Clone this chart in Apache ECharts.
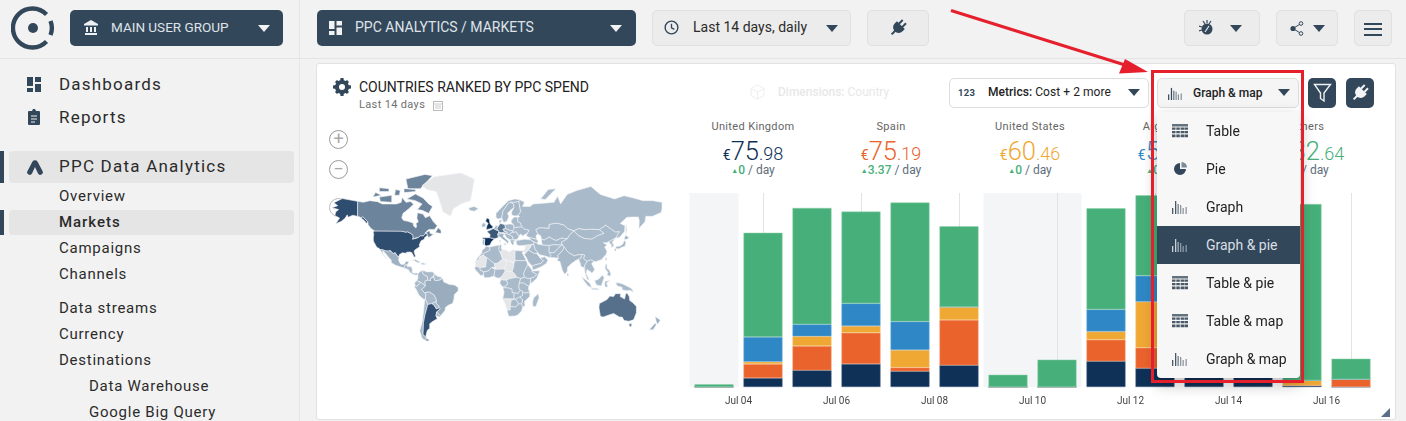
<!DOCTYPE html>
<html><head><meta charset="utf-8"><title>Countries ranked by PPC spend</title>
<script src="https://cdn.jsdelivr.net/npm/echarts@6/dist/echarts.min.js"></script>
<style>
html,body{margin:0;padding:0;width:1406px;height:421px;overflow:hidden;background:#f2f2f2;font-family:Roboto,sans-serif;color:#222}
.a{position:absolute;white-space:nowrap}
.btn{position:absolute;border-radius:5px;box-sizing:border-box}
.dark{background:#33475b;color:#dfe3e8}
.light{background:#ececec;border:1px solid #e0e0e0}
.tri{position:absolute;width:0;height:0;border-left:6.5px solid transparent;border-right:6.5px solid transparent;border-top:7.5px solid #33475b}
.nav{position:absolute;left:59px;font-size:15px;letter-spacing:.75px;color:#2b2b2b;line-height:20px;white-space:nowrap}
.kpi{position:absolute;width:130px;text-align:center;top:120px}
.kpi .n{font-size:11px;letter-spacing:.35px;color:#666;line-height:14px}
.kpi .v{font-weight:300;line-height:26px;margin-top:4px;font-size:18px;height:25px}
.kpi .v b{font-weight:300;font-size:25.5px}
.kpi .v i{font-style:normal;font-size:14px;font-weight:400}
.kpi .d{font-size:12px;color:#5e6d7c;line-height:14px;margin-top:0}
.kpi .d em{font-style:normal;color:#47b07a;font-weight:500}
.kpi .d s{text-decoration:none;color:#47b07a;font-size:7px;vertical-align:1px}
#chart{position:absolute;left:0;top:0;width:1406px;height:421px}
.mi{position:absolute;left:0;width:143px;height:38px;line-height:38px;padding-left:49px;box-sizing:border-box;font-size:14px;color:#222}
.mi svg{position:absolute;left:15px;top:12px}
.mi.on{background:#33475b;color:#d9dfe5}
</style></head><body>
<svg width="0" height="0" style="position:absolute">
<symbol id="plug" viewBox="0 0 20 20"><g transform="rotate(45 10 10)" fill="currentColor"><rect x="6.300" y="0" width="2.200" height="6"/><rect x="11.500" y="0" width="2.200" height="6"/><path d="M3.800 5.500h12.400v3.500a6.200 6.200 0 0 1-12.400 0z"/><rect x="8.900" y="14" width="2.200" height="6"/></g></symbol>
<symbol id="bars" viewBox="0 0 16 14"><g fill="currentColor"><rect x="0" y="8" width="1.300" height="6"/><rect x="3" y="1" width="1.300" height="13"/><rect x="5.500" y="4" width="1.300" height="10" opacity=".75"/><rect x="8" y="5" width="1.300" height="9" opacity=".6"/><rect x="10.500" y="8" width="1.300" height="6" opacity=".6"/><rect x="13.500" y="7" width="1.300" height="7" opacity=".6"/></g></symbol>
<symbol id="tbl" viewBox="0 0 16 14"><g fill="currentColor"><rect x="0" y="0" width="16" height="2.500" opacity=".85"/><path d="M0 3.500h3.500v2.200H0zM4.300 3.500h3.500v2.200H4.300zM8.600 3.500h3.500v2.200H8.600zM12.500 3.500H16v2.200h-3.500zM0 7h3.500v2.200H0zM4.300 7h3.500v2.200H4.300zM8.600 7h3.500v2.200H8.600zM12.500 7H16v2.200h-3.500zM0 10.500h3.500v2.700H0zM4.300 10.500h3.500v2.700H4.300zM8.600 10.500h3.500v2.700H8.600zM12.500 10.500H16v2.700h-3.500z"/></g></symbol>
</svg>

<!-- top bar -->
<div class="a" style="left:0;top:58px;width:1406px;height:1px;background:#e3e3e3"></div>
<div class="a" style="left:299px;top:0;width:1px;height:421px;background:#e6e6e6"></div>
<svg class="a" style="left:11px;top:6px" width="44" height="44" viewBox="0 0 44 44"><g fill="none" stroke="#33475b" stroke-width="4.400"><path d="M35.500 8.500A19.500 19.500 0 1 0 35.500 35.500"/><path d="M39.500 15A19 19 0 0 1 39.500 29"/></g><circle cx="22" cy="22" r="5" fill="#33475b"/></svg>
<div class="btn dark" style="left:70px;top:10px;width:213px;height:36px"></div>
<svg class="a" style="left:84px;top:20px" width="14" height="15" viewBox="0 0 14 15"><path d="M7 0L14 4v1.500H0V4zM1 13h12v2H1zM2 7h2v5H2zM6 7h2v5H6zM10 7h2v5h-2z" fill="#eef1f3"/></svg>
<div class="a" style="left:111px;top:10px;line-height:35px;font-size:13.500px;color:#dfe3e8">MAIN USER GROUP</div>
<div class="tri" style="left:258px;top:25px;border-top-color:#f0f2f4"></div>
<div class="btn dark" style="left:317px;top:10px;width:319px;height:36px"></div>
<svg class="a" style="left:329px;top:21px" width="13" height="14" viewBox="0 0 13 14"><path d="M0 0h5.500v8H0zM7.500 0H13v4.500H7.500zM7.500 6.500H13V14H7.500zM0 10h5.500v4H0z" fill="#f0f2f4"/></svg>
<div class="a" style="left:355px;top:10px;line-height:35px;font-size:14px;color:#dfe3e8">PPC ANALYTICS / MARKETS</div>
<div class="tri" style="left:610px;top:25px;border-top-color:#f0f2f4"></div>
<div class="btn light" style="left:652px;top:10px;width:199px;height:36px"></div>
<svg class="a" style="left:664px;top:20px" width="15" height="15" viewBox="0 0 16 16"><circle cx="8" cy="8" r="6.800" fill="none" stroke="#33475b" stroke-width="1.500"/><path d="M8 4v4.300l3 1.700" fill="none" stroke="#33475b" stroke-width="1.400"/></svg>
<div class="a" style="left:693px;top:10px;line-height:35px;font-size:14px;color:#2b2b2b">Last 14 days, daily</div>
<div class="tri" style="left:826px;top:25px"></div>
<div class="btn light" style="left:867px;top:10px;width:62px;height:36px"></div>
<svg class="a" style="left:889px;top:19px;color:#33475b" width="18" height="18"><use href="#plug"/></svg>
<div class="btn light" style="left:1184px;top:10px;width:76px;height:36px"></div>
<svg class="a" style="left:1199px;top:20px" width="16" height="16" viewBox="0 0 16 16"><circle cx="8" cy="9" r="5.500" fill="#33475b"/><path d="M4 1l2 3M8 0v3M12 1l-2 3M0 6l3 1M0 11l3-1" stroke="#33475b" stroke-width="1.200"/><path d="M6 12l4-6" stroke="#ececec" stroke-width="1.200"/></svg>
<div class="tri" style="left:1230px;top:25px"></div>
<div class="btn light" style="left:1276px;top:10px;width:62px;height:36px"></div>
<svg class="a" style="left:1290px;top:21px" width="14" height="15" viewBox="0 0 14 15"><path d="M3 7.500L11 2.500M3 7.500L11 12.500" stroke="#33475b" stroke-width="1"/><circle cx="3" cy="7.500" r="2.600" fill="#33475b"/><circle cx="11" cy="2.500" r="1.800" fill="#ececec" stroke="#33475b"/><circle cx="11" cy="12.500" r="1.800" fill="#ececec" stroke="#33475b"/></svg>
<div class="tri" style="left:1313px;top:25px"></div>
<div class="btn light" style="left:1354px;top:10px;width:38px;height:36px"></div>
<div class="a" style="left:1364px;top:23px;width:18px;height:2px;background:#33475b;box-shadow:0 5px 0 #33475b,0 11px 0 #33475b"></div>

<!-- sidebar -->
<svg class="a" style="left:27px;top:77px" width="14" height="15" viewBox="0 0 14 15"><path d="M0 0h6v9H0zM8 0h6v5H8zM8 7h6v8H8zM0 11h6v4H0z" fill="#33475b"/></svg>
<div class="nav" style="top:74px;font-size:17px;letter-spacing:1.200px">Dashboards</div>
<svg class="a" style="left:28px;top:109px" width="12" height="16" viewBox="0 0 12 16"><path d="M1 2h3l1-2h2l1 2h3a1 1 0 0 1 1 1v12a1 1 0 0 1-1 1H1a1 1 0 0 1-1-1V3a1 1 0 0 1 1-1z" fill="#33475b"/><path d="M3 7h6M3 10h6M3 13h4" stroke="#f2f2f2" stroke-width="1.200"/></svg>
<div class="nav" style="top:107px;font-size:17px;letter-spacing:1.200px">Reports</div>
<div class="a" style="left:9px;top:151px;width:285px;height:32px;background:#e5e5e5;border-radius:4px"></div>
<div class="a" style="left:0;top:151px;width:4px;height:32px;background:#33475b"></div>
<svg class="a" style="left:27px;top:160px" width="16" height="15" viewBox="0 0 16 15"><path d="M5.500 1.500a3 3 0 0 1 5 0l5 9.500a2.500 2.500 0 0 1-4.500 2.500L8 7l-3 6.500A2.500 2.500 0 0 1 .500 11z" fill="#33475b"/></svg>
<div class="nav" style="top:156px;font-size:17px;letter-spacing:1.220px">PPC Data Analytics</div>
<div class="nav" style="top:186px">Overview</div>
<div class="a" style="left:9px;top:210px;width:285px;height:25px;background:#e5e5e5;border-radius:4px"></div>
<div class="a" style="left:0;top:210px;width:4px;height:25px;background:#33475b"></div>
<div class="nav" style="top:212px;font-weight:500;letter-spacing:.95px">Markets</div>
<div class="nav" style="top:238px">Campaigns</div>
<div class="nav" style="top:264px">Channels</div>
<div class="nav" style="top:298px">Data streams</div>
<div class="nav" style="top:324px">Currency</div>
<div class="nav" style="top:350px">Destinations</div>
<div class="nav" style="top:376px;left:89px">Data Warehouse</div>
<div class="nav" style="top:402px;left:89px">Google Big Query</div>

<!-- card -->
<div class="a" style="left:316px;top:63px;width:1078px;height:355px;background:#fff;border:1px solid #e2e2e2;border-radius:3px"></div>
<svg class="a" style="left:333px;top:78px" width="18" height="18" viewBox="0 0 18 18"><circle cx="9" cy="9" r="5" fill="none" stroke="#33475b" stroke-width="4"/><path d="M7.500 0h3l.4 3h-3.800zM7.500 18h3l.4-3h-3.800zM0 7.500v3l3 .4V7.100zM18 7.500v3l-3 .4V7.100zM2 4l2-2 2.500 2-2.500 2.500zM16 4l-2-2-2.500 2 2.500 2.500zM2 14l2 2 2.500-2-2.500-2.500zM16 14l-2 2-2.500-2 2.500-2.500z" fill="#33475b"/></svg>
<div class="a" style="left:359px;top:78px;font-size:14px;line-height:18px;color:#222">COUNTRIES RANKED BY PPC SPEND</div>
<div class="a" style="left:359px;top:98px;font-size:11px;line-height:14px;color:#6f6f6f;letter-spacing:.35px">Last 14 days</div>
<svg class="a" style="left:433px;top:100px" width="10" height="11" viewBox="0 0 10 11"><rect x=".5" y="1.500" width="9" height="9" fill="none" stroke="#bbb"/><path d="M.5 4h9M2 6h6M2 8h6" stroke="#ccc"/></svg>
<svg class="a" style="left:750px;top:84px" width="15" height="16" viewBox="0 0 15 16"><path d="M7.500 1L14 4.500v7L7.500 15 1 11.500v-7zM1 4.500L7.500 8 14 4.500M7.500 8v7" fill="none" stroke="#eeeeee"/></svg>
<div class="a" style="left:778px;top:85px;font-size:12px;line-height:14px;color:#e8e8e8"><b style="font-weight:500">Dimensions:</b> Country</div>
<div class="btn" style="left:949px;top:78px;width:200px;height:30px;border:1px solid #ddd;background:#fff"></div>
<div class="a" style="left:958px;top:86px;font-size:9.500px;font-weight:700;line-height:14px;color:#33475b;letter-spacing:.3px">123</div>
<div class="a" style="left:988px;top:84px;font-size:12px;line-height:16px;color:#222;letter-spacing:.05px"><b style="font-weight:500">Metrics:</b> Cost + 2 more</div>
<div class="tri" style="left:1128px;top:89px"></div>
<div class="btn" style="left:1157px;top:78px;width:142px;height:30px;border:1px solid #ddd;background:#f5f5f5"></div>
<svg class="a" style="left:1168px;top:87px;color:#33475b" width="15" height="13"><use href="#bars"/></svg>
<div class="a" style="left:1193px;top:85px;font-size:12px;font-weight:500;line-height:16px;color:#222">Graph &amp; map</div>
<div class="tri" style="left:1278px;top:89px"></div>
<div class="btn dark" style="left:1308px;top:78px;width:28px;height:30px"></div>
<svg class="a" style="left:1313px;top:83px" width="19" height="20" viewBox="0 0 19 20"><path d="M1.500 1.500h16L11 10v8l-3.500-2.500V10z" fill="none" stroke="#eef1f3" stroke-width="1.400"/></svg>
<div class="btn dark" style="left:1346px;top:78px;width:28px;height:30px"></div>
<svg class="a" style="left:1351px;top:84px;color:#f2f4f6" width="18" height="18"><use href="#plug"/></svg>

<div class="a" style="left:329px;top:130px;width:17px;height:17px;border:1px solid #999;border-radius:50%;background:#fff;color:#aaa;text-align:center;line-height:16px;font-size:18px">+</div>
<div class="a" style="left:329px;top:160px;width:17px;height:17px;border:1px solid #999;border-radius:50%;background:#fff;color:#aaa;text-align:center;line-height:15px;font-size:18px">−</div>
<div class="a" style="left:329px;top:198px;width:17px;height:17px;border:1px solid #bbb;border-radius:50%;background:#fff"></div>

<div class="kpi" style="left:688px;color:#0f3057"><div class="n">United Kingdom</div><div class="v"><i>€</i><b>75</b>.98</div><div class="d"><s>▲</s><em>0</em> / day</div></div>
<div class="kpi" style="left:826px;color:#eb632c"><div class="n">Spain</div><div class="v"><i>€</i><b>75</b>.19</div><div class="d"><s>▲</s><em>3.37</em> / day</div></div>
<div class="kpi" style="left:965px;color:#f0a834"><div class="n">United States</div><div class="v"><i>€</i><b>60</b>.46</div><div class="d"><s>▲</s><em>0</em> / day</div></div>
<div class="kpi" style="left:1103px;color:#2f88c5"><div class="n">Argentina</div><div class="v"><i>€</i><b>58</b>.12</div><div class="d"><s>▲</s><em>0</em> / day</div></div>
<div class="kpi" style="left:1242px;color:#47b07a"><div class="n">Others</div><div class="v"><i>€</i><b>132</b>.64</div><div class="d"><s>▲</s><em>0</em> / day</div></div>

<div id="chart"></div>

<div class="a" style="left:1381px;top:408px;width:0;height:0;border-left:9px solid transparent;border-bottom:9px solid #5b7088"></div>

<!-- dropdown -->
<div class="a" style="left:1157px;top:112px;width:143px;height:266px;background:#f7f7f7;border-radius:4px;box-shadow:0 6px 16px rgba(0,0,0,.28);overflow:hidden" id="menu">
<div class="mi" style="top:0"><svg width="16" height="14" style="color:#4a5968"><use href="#tbl"/></svg>Table</div>
<div class="mi" style="top:38px"><svg width="16" height="14" viewBox="0 0 16 14"><path d="M8 1a6 6 0 1 0 6 6H8z" fill="#33475b"/><path d="M9.500 0a5.500 5.500 0 0 1 5.500 5.500H9.500z" fill="#7c8a98"/></svg>Pie</div>
<div class="mi" style="top:76px"><svg width="16" height="14" style="color:#4a5968"><use href="#bars"/></svg>Graph</div>
<div class="mi on" style="top:114px"><svg width="16" height="14" style="color:#c9d1d9"><use href="#bars"/></svg>Graph &amp; pie</div>
<div class="mi" style="top:152px"><svg width="16" height="14" style="color:#4a5968"><use href="#tbl"/></svg>Table &amp; pie</div>
<div class="mi" style="top:190px"><svg width="16" height="14" style="color:#4a5968"><use href="#tbl"/></svg>Table &amp; map</div>
<div class="mi" style="top:228px"><svg width="16" height="14" style="color:#4a5968"><use href="#bars"/></svg>Graph &amp; map</div>
</div>
<div class="a" style="left:1151px;top:70px;width:147px;height:307px;border:3px solid #e5202c"></div>
<svg class="a" style="left:0;top:0" width="1406" height="421"><path d="M951 10.500L1125 65" stroke="#e5202c" stroke-width="3"/><path d="M1148 72L1119 73.500L1125 59z" fill="#e5202c"/></svg>

<script>
const days = ["Jul 03","Jul 04","Jul 05","Jul 06","Jul 07","Jul 08","Jul 09","Jul 10","Jul 11","Jul 12","Jul 13","Jul 14","Jul 15","Jul 16"];
const dayEdges = ["Jul 03","Jul 04","Jul 05","Jul 06","Jul 07","Jul 08","Jul 09","Jul 10","Jul 11","Jul 12","Jul 13","Jul 14","Jul 15","Jul 16","Jul 17"];
const unitedKingdom = [0,4.6,8.6,11.9,8.1,11.2,0,0,13.3,9.7,11.5,10.5,0.8,0];
const spain         = [0,7.2,12.5,16,1.9,23.4,0,0,11,10.5,14,12,0,4];
const unitedStates  = [0,1.2,5,3.5,9.1,6.7,0,0,4.3,23.7,8,7,2.6,0];
const argentina     = [0,12.8,6.2,11.7,14.6,0,0,0,11.4,13.4,10,9,0,0];
const others        = [1.4,53.7,60,47.3,61.4,41.5,6.3,14.1,52.1,41.5,48,52,90.9,10.6];
const weekendRanges = [["Jul 03","Jul 04"],["Jul 09","Jul 11"]];
const mapCountries = ["United States","United Kingdom","Spain","Argentina","France","Australia","Canada","Germany","Brazil","Russia","China","India","Mexico","Colombia","Venezuela","Guianas","Ecuador","Peru","Bolivia","Chile","Paraguay","Uruguay","Iceland","Ireland","Portugal","Benelux","Alpine","Italy","Poland","Central Europe","Balkans","Romania-Bulgaria","Greece","Ukraine","Belarus-Baltics","Norway","Sweden","Finland","Denmark","Turkey","Caucasus","Iran","Iraq","Saudi Arabia","Yemen-Oman","Kazakhstan","Central Asia","Afghanistan","Pakistan","Sri Lanka","Myanmar","Indochina","Mongolia","Korea","Japan","Taiwan","Philippines","Indonesia","New Guinea","New Zealand","Madagascar","Central America","Caribbean","Morocco","Algeria","Tunisia","Egypt","Mali","Sudan","Ethiopia","Somalia","Senegambia","Gulf of Guinea","Nigeria","Gabon-Congo","DR Congo","East Africa","Tanzania","Angola","Zambia","Mozambique","Zimbabwe","Botswana","South Africa"];
const mapValues = [60.46,75.98,75.19,58.12,54,42,31,38,9,2,2,3,7,3,2,2,2,2,2,3,2,2,2,3,3,4,3,8,3,3,2,2,2,2,2,3,3,3,3,2,2,2,2,3,2,2,2,2,2,2,2,2,2,2,5,2,2,2,2,8,2,3,2,3,2,2,3,2,2,2,2,2,2,2,2,2,2,2,2,2,3,2,2,3];
const mapNoData = ["Greenland","Mauritania","Libya","Niger","Chad","Central Africa","Namibia","Levant"];

const regionOutlines = {
"United States":[[-124.7,48.4,-123,49,-95.2,49,-94.6,48.7,-92,48.3,-89.6,48,-88.4,48.3,-84.9,46.9,-83.6,46.1,-82.5,45.3,-82.4,43,-83.1,42.1,-78.9,42.9,-79.2,43.4,-76.8,43.6,-75,45,-71.5,45,-70,46.7,-69,47.4,-67.8,47.1,-67.5,45.3,-70.2,43.6,-70.7,42,-74,40.6,-75.5,38,-76,36.9,-75.5,35.2,-78,33.9,-81,32,-81.4,30.3,-80.1,26.8,-80.4,25.2,-81.8,26,-82.8,28,-84,30,-86,30.4,-89.5,30.2,-89.5,29.1,-91.5,29.4,-94,29.6,-97.2,27.7,-97.2,25.9,-99.2,26.4,-101.4,29.8,-103,29,-104.5,29.6,-106.5,31.8,-108.2,31.3,-111,31.3,-114.8,32.5,-117.1,32.5,-118.5,34,-120.6,34.5,-122.5,37.5,-124.3,40.3,-124.5,43,-124,46.2],[-141,69.6,-141,60.3,-137.5,58.9,-135.5,59.7,-130,55.9,-131.5,55,-134,57,-139,59.6,-146,60.7,-151,59.3,-152,61,-154,58.7,-158,56.5,-164,54.6,-160,58.7,-165,60.5,-164,63,-161,64.5,-168,65.6,-162,67,-166,68.8,-157,71.2,-150,70.5]],
"Canada":[[-141,69.6,-135,69,-128,70,-120,69.4,-115,68,-108,68,-100,68,-95,69,-94,71.8,-90,69,-85,69.5,-82,67.8,-87,65,-93,62,-94.5,59,-92.5,57,-88,56.4,-82.5,55.2,-82,52.9,-79.5,51.3,-78.7,52.8,-79.5,54.7,-77,56,-78.5,58.7,-77.8,62.4,-72,61.5,-69.5,59,-65,60.3,-61,56,-57,53,-60,50.2,-66,50.2,-70,47.3,-65,49.2,-64.5,47,-61,46,-66,43.6,-67.5,45.3,-67.8,47.1,-69,47.4,-70,46.7,-71.5,45,-75,45,-76.8,43.6,-79.2,43.4,-78.9,42.9,-83.1,42.1,-82.4,43,-82.5,45.3,-83.6,46.1,-84.9,46.9,-88.4,48.3,-89.6,48,-92,48.3,-94.6,48.7,-95.2,49,-123,49,-127,51,-130,54,-130,55.9,-135.5,59.7,-137.5,58.9,-141,60.3],[-62,66.5,-66,62,-73,64,-78,64.5,-73,68,-80,70,-89,71,-80,73.7,-72,71.5,-66,68],[-105,69,-117,69.5,-118,72,-105,73],[-62,82.5,-75,76.5,-88,76.5,-90,81,-70,83],[-116,73,-125,72,-122,74.5],[-80,75,-92,74.5,-92,76.5,-80,76],[-59,47.7,-53,46.8,-53,49.3,-56,51.5],[-97,73,-102,73,-101,76,-96,75.5],[-108,75,-118,75,-118,77,-108,76.5]],
"Greenland":[[-73,78,-60,82,-32,83.6,-18,81,-20,75,-22,70,-32,68,-40,65,-43,60,-51,63,-54,69,-58,75,-68,76]],
"Iceland":[[-24,65.5,-18,66.5,-13.5,65,-18,63.4,-22.5,63.9]],
"Mexico":[[-117.1,32.5,-114.8,32.5,-111,31.3,-108.2,31.3,-106.5,31.8,-104.5,29.6,-103,29,-101.4,29.8,-99.2,26.4,-97.2,25.9,-97.8,22.4,-96,19,-94.5,18.2,-91.5,18.5,-90.5,21,-87,21.5,-88,18.5,-89,17.9,-91,17.3,-92.2,14.6,-96,15.8,-101,17.5,-105.5,20,-105.5,22.5,-109,26,-112.5,30,-114.7,31.5,-114.5,29,-110,23.2,-112,25,-115,29]],
"Central America":[[-92.2,14.6,-91,17.3,-89,17.9,-88,18.5,-88.5,16,-84,15.8,-83.3,12,-83.5,10,-81,9,-79,9.5,-77.5,8.7,-78,7.3,-80.5,7.4,-83,8.3,-85.5,10,-87.5,13]],
"Caribbean":[[-85,22,-80,23.2,-74.2,20.2,-77.5,19.9,-78,20.8,-82,22.4],[-74.4,18.5,-73,19.9,-68.4,18.6,-71,17.9]],
"Colombia":[[-77.5,8.7,-75,11,-72,12.2,-72.4,9,-70,7,-67.5,6,-67,2,-70,1,-69.5,-4.2,-71,-2.5,-75,0,-78.8,1.5,-77.3,4,-77.5,7]],
"Venezuela":[[-72,12.2,-68,10.6,-62,10.7,-60,8.5,-61,6,-60.7,5,-64,4,-64,1.5,-67,2,-67.5,6,-70,7,-72.4,9]],
"Guianas":[[-60,8.5,-57,6,-52,5,-51.6,4,-54,2.2,-58,1.5,-60,2,-60.7,5,-61,6]],
"Ecuador":[[-80,0,-78.8,1.5,-75,0,-75.5,-1.5,-78.5,-4.5,-80.3,-3.4,-81,-1]],
"Peru":[[-81,-5,-80.3,-3.4,-78.5,-4.5,-75.5,-1.5,-75,0,-71,-2.5,-69.5,-4.2,-73.5,-7.5,-70.5,-11,-69,-12.5,-69.5,-17.5,-71,-18,-76,-14,-79,-8]],
"Bolivia":[[-69,-12.5,-70.5,-11,-65.5,-10,-60,-13.5,-58,-18,-58,-20,-62.5,-22,-67,-23,-69,-19,-69.5,-17.5]],
"Chile":[[-69.5,-17.5,-69,-19,-67,-23,-70,-33,-71.5,-40,-72,-50,-68.5,-52.3,-68.6,-55,-73,-53,-75.5,-47,-73,-40,-71.5,-30,-70.2,-18.4]],
"Argentina":[[-67,-23,-62.5,-22,-60,-24,-58,-27.2,-54.7,-26,-53.8,-27.2,-57.6,-30.2,-58.4,-34,-57,-36.5,-62,-39,-65,-41,-65,-45,-67.5,-46.5,-69,-51,-68.5,-52.3,-72,-50,-71.5,-40,-70,-33],[-68.6,-55,-68.5,-53,-65.2,-54.7]],
"Paraguay":[[-62.5,-22,-58,-20,-57.9,-22,-55.5,-24,-54.7,-26,-58,-27.2,-60,-24]],
"Uruguay":[[-57.6,-30.2,-53.4,-33.7,-54,-34.9,-58.4,-34]],
"Brazil":[[-51.6,4,-50,0,-44,-2.5,-39,-3,-35,-5.5,-35,-9,-39,-13,-39.5,-18,-41,-22,-45,-23.5,-48.5,-26,-48.7,-28.5,-53.4,-33.7,-57.6,-30.2,-53.8,-27.2,-54.7,-26,-55.5,-24,-57.9,-22,-58,-18,-60,-13.5,-65.5,-10,-70.5,-11,-73.5,-7.5,-69.5,-4.2,-70,1,-67,2,-64,1.5,-64,4,-60.7,5,-60,2,-58,1.5,-54,2.2]],
"United Kingdom":[[-5.5,50,1.3,51.2,1.7,52.7,0,53.5,-1.5,55,-2,57.6,-3.5,58.6,-5,58.6,-6,56.5,-3.2,54.8,-4.5,53.3,-5,51.7]],
"Ireland":[[-10,52,-6.2,52.2,-6,54.2,-8,55.3,-10,54]],
"Spain":[[-9.3,43.2,-1.8,43.4,3.2,42.4,0,39.5,-0.8,37.7,-2,36.7,-5.5,36,-7.3,37.2,-7,42,-8.9,42]],
"Portugal":[[-9.5,38.7,-8.9,37,-7.3,37.2,-7,42,-8.9,42]],
"France":[[-1.8,43.4,3.2,42.4,6,43,7.5,43.8,6.9,46,8.2,49,4.5,50,2.5,51,-1.5,49.5,-4.7,48.5,-1.2,46]],
"Germany":[[6,51,6.2,49.5,8.2,49,7.6,47.6,13,47.5,13.8,48.8,12.2,50.3,15,51,14.3,53.9,9.5,54.8,8.5,53.8]],
"Benelux":[[2.5,51,4.5,50,6.2,49.5,6,51,7,53.3,4.7,53]],
"Alpine":[[6.9,46,10.4,46.7,16,46.8,17,48,13.8,48.8,13,47.5,7.6,47.6]],
"Italy":[[7.5,43.8,6.9,46,10.4,46.7,13.7,46.5,12.3,44.5,16,41.8,18.5,40,16.6,38,15.7,40,12,42,9,44.3],[12.5,38,15.5,38.2,15,36.7],[8.3,41,9.7,41,9.5,39,8.5,39]],
"Poland":[[14.3,53.9,15,51,19,49.5,22.6,49.1,24,50.7,23.5,54,19,54.4]],
"Central Europe":[[13.8,48.8,17,48,16,46.8,18.8,45.9,22,47.9,22.6,49.1,19,49.5,15,51,12.2,50.3]],
"Balkans":[[13.7,46.5,16,46.8,18.8,45.9,22.5,44.3,23,41.3,19.5,41.5,16,43.5]],
"Romania-Bulgaria":[[22,47.9,26.6,48.3,28.2,45.5,29.7,45.2,28.6,43.7,27.5,42,23,41.3,22.5,44.3,18.8,45.9]],
"Greece":[[19.5,41.5,23,41.3,26.3,41,23.5,40,24,38,22.8,36.5,21,38.3]],
"Ukraine":[[22.6,49.1,24,50.7,24,51.7,32,52.3,35,50.5,40,49.5,38,47,35,46,33.5,44.5,31,46.5,29.7,45.2,28.2,45.5,26.6,48.3,22,47.9]],
"Belarus-Baltics":[[23.5,54,24,51.7,32,52.3,31,55,28,56.2,28,59.4,24,59.5,21,57,21,55.5]],
"Norway":[[5,59,7.5,58,11,59,12.3,63.5,14,65,18,68.5,20.5,69,25,69,29,69.5,31,70.3,25,71,18,70,12,66.5,5,62]],
"Sweden":[[11,59,13,55.5,16.5,56.5,18.5,60,17,62,21,64.5,24,65.8,23.5,68,20.5,69,18,68.5,14,65,12.3,63.5]],
"Finland":[[24,65.8,21.5,63,21.5,60.8,25,60.2,28,60.5,31,63,29,69.5,25,69,20.5,69,23.5,68]],
"Denmark":[[8.5,55,9.5,54.8,10.8,56.5,10.5,57.7,8.2,57]],
"Russia":[[28,56.2,31,55,32,52.3,35,50.5,40,49.5,38,47,37,45,40,43.5,48,41.9,47,45,49,46.5,47,50,51,51.5,61,51,61,54,69,55,77,53.5,80.5,50.8,87,49,92,50.8,98,50,106,50.3,114,50,119,52.5,120.5,53.5,127,50,131,48,135,48.4,131,43,135,43.5,140.5,48.5,141,53,136,54.8,143,59.3,150,59.5,155,59.5,156,57,155.7,51,162,56,163,60,170,60,179,62.5,180,65,180,69,170,70,160,70,150,71.5,140,72.8,130,71,115,73.5,105,77.6,90,75.5,80,73.5,73,68,70,72.5,66,69,55,68.5,44,68,41,66.5,33,66.5,35,69,31,70.3,29,69.5,31,63,28,60.5,30,59.8,28,59.4],[52,71,57,70.7,68,76.5,60,76],[142,54,143,50,142,46,141.9,50]],
"Turkey":[[26.3,41,29,41.2,35,42,41.5,41.5,44.8,39.7,44.8,37.2,36,36.7,30,36.3,27,37,26.3,39]],
"Caucasus":[[40,43.5,48,41.9,49.5,40.3,48,38.5,44.8,39.7,41.5,41.5]],
"Iran":[[44.8,39.7,48,38.5,49.5,37.5,54,37,61,36.5,61,31,63,27,61.5,25,57,26.5,51,27.8,48.7,30.2,46,33,44.8,37.2]],
"Iraq":[[44.8,37.2,46,33,48.7,30.2,47.5,29,44.5,29.2,39,32.3,41,34.5,42.3,37.2]],
"Levant":[[36,36.7,42.3,37.2,41,34.5,39,32.3,37,30,35,29.5,34.3,31.3,35.8,34.7]],
"Saudi Arabia":[[34.8,28,37,30,39,32.3,44.5,29.2,47.5,29,48.5,28,50,26.5,51.5,24.5,55,22,52,19,49,18.5,45,17.4,43,16.5,39,21,37,25]],
"Yemen-Oman":[[43,16.5,45,17.4,49,18.5,52,19,55,22,51.5,24.5,56.3,25.8,59.8,22.5,57.8,19,52,15.6,45,12.8,43.5,12.7]],
"Kazakhstan":[[47,50,51,51.5,61,51,61,54,69,55,77,53.5,80.5,50.8,87,49,82.5,45.5,80,42.2,74,43,69,41,66,41.5,61,44,56,41.3,53,42,52,45,49,46.5]],
"Central Asia":[[53,42,56,41.3,61,44,66,41.5,69,41,74,43,80,42.2,74,39.5,75,37,71,36.8,66.5,37.3,61,36.5,54,37,53,39.5]],
"Afghanistan":[[61,36.5,66.5,37.3,71,36.8,74.5,37,70,33.5,66.5,30,61,29.5,61,31]],
"Pakistan":[[61,29.5,66.5,30,70,33.5,74.5,37,77,35,74.5,31,70,27,71,24.3,67,24.8,61.5,25,63,27]],
"India":[[74.5,31,77,35,79,32.5,81,30.2,88,26.5,89,27.5,96,28.2,94,24,92,23.5,88.5,21.8,85,19.5,80.5,15.5,80,11,77.5,8,75,12,73,19,72.5,21,69,22.3,71,24.3,70,27]],
"Sri Lanka":[[80,9.5,81.8,7.5,80.5,6,79.8,7.5]],
"Myanmar":[[92,23.5,94,24,96,28.2,98.5,27.5,97.5,24,101,21.5,98.5,17,98.8,10,97.7,15,94.5,16,94,19]],
"Indochina":[[101,21.5,105,23,108,21.5,105.8,19,109,13,106,9,105,10.5,101,13,100,9,103.5,2,101,3,100,6,98.8,10,98.5,17]],
"Mongolia":[[87,49,92,50.8,98,50,106,50.3,114,50,119,47,112,45,106,42,98,42.7,92,45]],
"China":[[74,39.5,80,42.2,82.5,45.5,87,49,92,45,98,42.7,106,42,112,45,119,47,114,50,119,52.5,120.5,53.5,127,50,131,48,135,48.4,131,43,128,41.7,124.3,40,121.5,39,118,39,122,37,119.5,35,122,31,121,28,116,23,110,21,108,21.5,105,23,101,21.5,97.5,24,98.5,27.5,96,28.2,89,27.5,88,26.5,81,30.2,79,32.5,77,35,75,37]],
"Korea":[[124.3,40,128,41.7,130.7,42.3,127.5,39.5,129.3,36,126.5,34.5,126.5,37.5,125,38]],
"Japan":[[130.9,34,132,35.5,136,36,139,38,140,40.8,142,39.5,140.8,35.7,136.8,34.5,135,33.5,133,33.5],[140,42,141.5,45.4,145.3,43.5,143,42],[130,33.5,132,33,131,31,130,32]],
"Taiwan":[[121,25,122,24,120.8,22,120,23.5]],
"Philippines":[[120.5,18.5,122,18,122,14,124,13,126,9,125.5,6,122,7,123,10,120,14]],
"Indonesia":[[109,1.5,113,3,117,7,119,5,117.7,1,116,-4,111,-3,109.5,0],[95.3,5.6,100,2,104,-1.5,106,-5.8,102,-4,98,1],[105.5,-6.5,111,-6.5,114.5,-8,106,-7.6],[120,1,125,1.5,121.5,-0.8,123,-5,120,-5,119.5,-2]],
"New Guinea":[[131,-1,134,-0.8,138,-1.7,145,-5,147.5,-6.5,150.5,-10.5,146,-8.5,143,-9,138,-8,138,-5.5,133,-4]],
"Australia":[[114,-22,113.5,-26,115,-34.3,118,-35,124,-33,129,-31.6,135,-34.8,138,-35,140,-38,145,-38.8,150,-37.5,153,-31,153,-25,149,-21,146,-19,145.5,-15,143,-11,141.5,-13,140.5,-17.5,136,-15,136.5,-12,131,-12,129,-15,125,-14.5,122,-18,117,-20.5],[145,-41,148.3,-41,147.5,-43.5,146,-43.5]],
"New Zealand":[[172.7,-34.5,178.3,-37.7,176.5,-40,175,-41.5,174,-39],[172.7,-40.5,174,-41.8,170.7,-46,166.6,-46]],
"Madagascar":[[49.3,-12,50.4,-16,47,-25,44,-25,43.5,-21,44.5,-16.5]],
"Morocco":[[-5.9,35.8,-2,35,-1.2,32.2,-8.7,28.7,-8.7,27.3,-12,26,-13,23,-17,21,-14,25,-10,29.5,-9.7,32,-7,34]],
"Algeria":[[-2,35,8.5,37,8,33,9.5,30,12,23.5,6,19,3.3,19,-8.7,27.3,-8.7,28.7,-1.2,32.2]],
"Tunisia":[[8.5,37,11,37,10.3,34,11.5,32.5,9.5,30,8,33]],
"Libya":[[11.5,32.5,15,32.3,19,30.5,23,32.7,25,31.7,25,20,24,19.5,15,23,12,23.5,9.5,30]],
"Egypt":[[25,31.7,34.2,31.3,32.5,29.8,35.8,24,36.9,22,25,22]],
"Mauritania":[[-17,21,-13,23,-12,26,-8.7,27.3,-4.8,25,-6,16,-12,15,-16.5,16.3]],
"Mali":[[-4.8,25,3.3,19,4,15.5,0,15,-3,11.5,-8,10.5,-12,12.5,-12,15,-6,15.6]],
"Niger":[[3.3,19,6,19,12,23.5,15,23,16,18,13.6,13.5,4,13.2,4,15.5]],
"Chad":[[15,23,24,19.5,23.5,15.5,22,11,15,10,14.5,11,13.6,13.5,16,18]],
"Sudan":[[25,22,36.9,22,38.5,18,36.5,14,34,9,35,5,31,3.7,27,5,24,9,22,11,23.5,15.5,24,19.5,25,20]],
"Ethiopia":[[38.5,18,43,12.5,42.8,11,48,8,45,5,41.5,4,39,3.5,35,5,34,9,36.5,14]],
"Somalia":[[43,11.5,51.2,11.8,48,4,42,-1.5,41,4,45,5,48,8,42.8,11]],
"Senegambia":[[-16.5,16.3,-12,15,-12,12.5,-8,10.5,-8,7.5,-11.5,6.9,-13.5,9.5,-16.8,12.5,-17.5,14.7]],
"Gulf of Guinea":[[-8,10.5,-3,11.5,0,15,4,13.2,2.7,6.3,-2,4.8,-7.5,4.4,-8,7.5]],
"Nigeria":[[2.7,6.3,4,13.2,13.6,13.5,14.5,11,12,7,9,4.3,6,4.3]],
"Central Africa":[[9,4.3,12,7,14.5,11,15,10,22,11,24,9,27,5,19,3.5,16,2,9.8,2.3]],
"Gabon-Congo":[[9.8,2.3,16,2,17.5,-2,14,-4.8,12,-5,9,-1.2]],
"DR Congo":[[19,3.5,27,5,31,3.7,29.5,-1,29,-6,30.5,-8.5,28,-12,22,-11,21.5,-7,16.5,-6,12.2,-6,14,-4.8,17.5,-2,16,2]],
"East Africa":[[31,3.7,35,5,39,3.5,41.5,4,41,-1.5,39.5,-4.5,34,-1,29.5,-1]],
"Tanzania":[[29.5,-1,34,-1,39.5,-4.5,39,-7,40.5,-10.5,35,-11.5,30.5,-8.5,29,-6]],
"Angola":[[12.2,-6,16.5,-6,21.5,-7,22,-11,24,-11,24,-17.5,12,-17.3,13.5,-10.5]],
"Zambia":[[24,-11,28,-12,30.5,-8.5,33,-9.5,33,-14,30,-15.5,25.5,-17.8,24,-17.5]],
"Mozambique":[[35,-11.5,40.5,-10.5,40.6,-15,35,-20,35.5,-24,32.9,-26,32,-22.4,33,-18,30,-15.5,33,-14,33,-9.5]],
"Zimbabwe":[[25.5,-17.8,30,-15.5,33,-18,32,-22.4,29,-22.4]],
"Namibia":[[12,-17.3,24,-17.5,25.5,-17.8,21,-18.5,20,-28.4,16.5,-28.6,14.5,-22]],
"Botswana":[[21,-18.5,25.5,-17.8,29,-22.4,25.5,-25.5,20,-25]],
"South Africa":[[16.5,-28.6,20,-28.4,20,-25,25.5,-25.5,29,-22.4,32,-22.4,32.9,-26,32,-29,28,-33,25,-34,18.5,-34.3]]
};

function ring(flat){const r=[];for(let i=0;i<flat.length;i+=2)r.push([flat[i],flat[i+1]]);r.push(r[0]);return r;}
echarts.registerMap('world',{type:'FeatureCollection',features:Object.keys(regionOutlines).map(name=>({
  type:'Feature',properties:{name},geometry:{type:'MultiPolygon',coordinates:regionOutlines[name].map(f=>[ring(f)])}
}))});
const rad=Math.PI/180;
const miller={
  project:p=>[p[0]*rad,-1.25*Math.log(Math.tan(Math.PI/4+0.4*p[1]*rad))],
  unproject:p=>[p[0]/rad,(2.5*Math.atan(Math.exp(-p[1]/1.25))-Math.PI*0.625)/rad]
};
const barStyle=(c,b)=>({color:c,borderColor:b,borderWidth:0.5});
const chart=echarts.init(document.getElementById('chart'),null,{renderer:'canvas'});
const stackSeries=[
 ['United Kingdom',unitedKingdom,'#0f3057','#4f6c8c'],
 ['Spain',spain,'#eb632c','#f29a70'],
 ['United States',unitedStates,'#f0a834','#f6c67a'],
 ['Argentina',argentina,'#2f88c5','#6fb0dc'],
 ['Others',others,'#47b07a','#8ed1ad']
].map(([name,data,c,b])=>({name,type:'bar',stack:'spend',data,barWidth:39,z:3,itemStyle:barStyle(c,b),silent:true,animation:false}));
chart.setOption({
  animation:false,
  backgroundColor:'transparent',
  grid:{left:689.5,top:193,width:686,height:194,containLabel:false},
  xAxis:[
   {type:'category',data:days,boundaryGap:true,axisLine:{show:false},axisTick:{show:false},axisLabel:{show:false},
    splitLine:{show:true,alignWithLabel:true,interval:(i)=>i%2===1,lineStyle:{color:'#e3e3e3',width:1}}},
   {type:'category',data:dayEdges,boundaryGap:false,position:'bottom',axisLine:{show:false},axisTick:{show:false},splitLine:{show:false},
    axisLabel:{show:true,interval:(i)=>i%2===1,margin:9,fontSize:10,fontFamily:'Roboto',color:'#444',hideOverlap:false}}
  ],
  yAxis:{type:'value',min:0,max:100,show:false},
  visualMap:{show:false,type:'continuous',seriesIndex:6,min:0,max:76,inRange:{color:['#adbecd','#0f3057']}},
  series:[
   ...stackSeries,
   {type:'line',xAxisIndex:1,data:[],silent:true,z:1,
    markArea:{silent:true,z:1,itemStyle:{color:'#dfe3e9',opacity:0.36},data:weekendRanges.map(r=>[{xAxis:r[0]},{xAxis:r[1]}])}},
   {type:'map',map:'world',projection:miller,left:332,top:173,width:330,height:168,roam:false,silent:true,
    label:{show:false},emphasis:{disabled:true},select:{disabled:true},
    itemStyle:{areaColor:'#e4e6e8',borderColor:'#f1f4f7',borderWidth:0.6},
    data:mapCountries.map((name,i)=>({name,value:mapValues[i]})).concat(mapNoData.map(name=>({name,value:NaN})))}
  ]
});
</script>
</body></html>
